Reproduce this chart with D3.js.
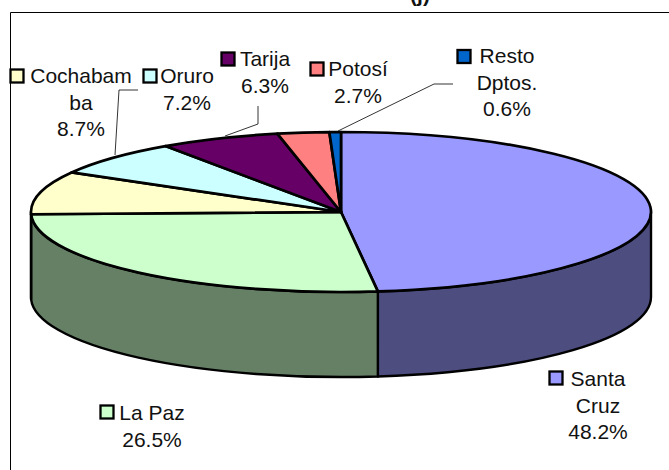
<!DOCTYPE html>
<html>
<head>
<meta charset="utf-8">
<script src="https://cdn.jsdelivr.net/npm/d3@7/dist/d3.min.js"></script>
<style>
html,body{margin:0;padding:0;background:#fff}
svg{display:block}
text{font-family:"Liberation Sans",Arial,sans-serif;font-size:21px;fill:#111}
</style>
</head>
<body>
<svg id="c" width="669" height="470"></svg>
<script>
const categories = ["Santa Cruz","La Paz","Cochabamba","Oruro","Tarija","Potosí","Resto Dptos."];
const values = [48.2,26.5,8.7,7.2,6.3,2.7,0.6];
const topColors = ["#9999FF","#CCFFCC","#FFFFCC","#CCFFFF","#660066","#FF8080","#0066CC"];
const sideColors = ["#4D4D80","#668066","#808066","#668080","#330033","#804040","#003366"];
const labelLines = [["Santa","Cruz","48.2%"],["La Paz","26.5%"],["Cochabam","ba","8.7%"],["Oruro","7.2%"],["Tarija","6.3%"],["Potosí","2.7%"],["Resto","Dptos.","0.6%"]];

const cx=341, cy=212, rx=310, ry=80, depth=85;
const svg=d3.select("#c");

// frame
svg.append("path").attr("d","M10.5,470V12.5H669").attr("fill","none").attr("stroke","#000").attr("stroke-width",1);
// clipped title remnant
svg.append("text").attr("x",420).attr("y",2).attr("text-anchor","middle").style("font-weight","bold").text("(j)");

const pie=d3.pie().value((d,i)=>values[i]).sort(null)(categories);
const px=a=>cx+rx*Math.sin(a), py=a=>cy-ry*Math.cos(a);

// side wall (only the front half of the ellipse is visible)
const side=svg.append("g");
pie.forEach((s,i)=>{
  const a0=Math.max(s.startAngle,Math.PI/2), a1=Math.min(s.endAngle,Math.PI*3/2);
  if(a1<=a0) return;
  const d=`M${px(a0)},${py(a0)}A${rx},${ry} 0 0 1 ${px(a1)},${py(a1)}L${px(a1)},${py(a1)+depth}A${rx},${ry} 0 0 0 ${px(a0)},${py(a0)+depth}Z`;
  side.append("path").attr("d",d).attr("fill",sideColors[i]).attr("stroke","#000").attr("stroke-width",2.4).attr("stroke-linejoin","round");
});

// top face
const arc=d3.arc().innerRadius(0).outerRadius(rx);
svg.append("g").attr("transform",`translate(${cx},${cy}) scale(1,${ry/rx})`)
  .selectAll("path").data(pie).join("path")
  .attr("d",arc)
  .attr("fill",(d,i)=>topColors[i])
  .attr("stroke","#000").attr("stroke-width",2.7).attr("stroke-linejoin","round")
  .attr("vector-effect","non-scaling-stroke");

// leader lines
const leaders=[[[138,90],[119,90],[115,155]],[[258,106],[258,124],[225,136]],[[453,84],[434,84],[338,131]]];
svg.selectAll("path.leader").data(leaders).join("path").attr("class","leader")
  .attr("d",d3.line()).attr("fill","none").attr("stroke","#000").attr("stroke-width",0.8);

// labels: [text center x, first baseline, swatch x, swatch y]
const labelPos=[[598,386,549.5,371.5],[152,420,100.5,405.5],[81,83,10.5,69.5],[187,83,143.5,69.5],[265,66,221.5,52.5],[358,76,310.5,62.5],[507,63,457.5,50]];
const lh=26.7;
labelPos.forEach((p,i)=>{
  const t=svg.append("text").attr("text-anchor","middle");
  labelLines[i].forEach((l,j)=>t.append("tspan").attr("x",p[0]).attr("y",p[1]+j*lh).text(l));
  svg.append("rect").attr("x",p[2]).attr("y",p[3]).attr("width",13).attr("height",13)
    .attr("fill",topColors[i]).attr("stroke","#000").attr("stroke-width",2.3);
});
</script>
</body>
</html>
